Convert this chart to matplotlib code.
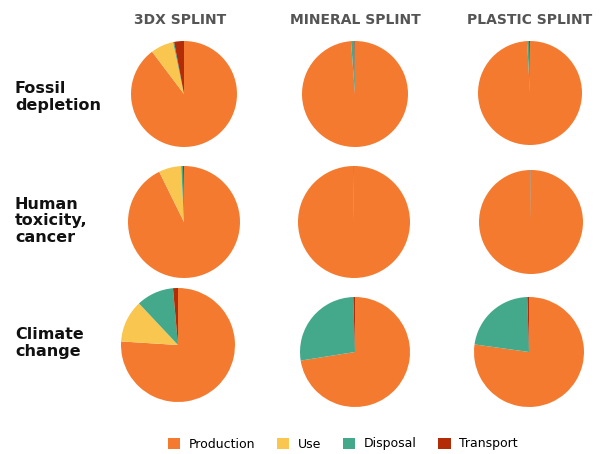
import matplotlib
matplotlib.use('Agg')
import matplotlib.pyplot as plt
from matplotlib.patches import Patch

products = ['3DX SPLINT', 'MINERAL SPLINT', 'PLASTIC SPLINT']
impacts = ['Fossil\ndepletion', 'Human\ntoxicity,\ncancer', 'Climate\nchange']
stages = ['Production', 'Use', 'Disposal', 'Transport']
colors = ['#F47A30', '#F9C74F', '#44A98A', '#B22D07']

# shares (%) per stage: Production, Use, Disposal, Transport
fossil = [[89.7, 7.0, 0.3, 3.0],
          [98.8, 0.0, 1.0, 0.2],
          [99.1, 0.0, 0.6, 0.3]]
toxicity = [[92.7, 6.5, 0.5, 0.3],
            [99.7, 0.0, 0.2, 0.1],
            [99.8, 0.0, 0.1, 0.1]]
climate = [[76.0, 12.0, 10.6, 1.4],
           [72.5, 0.0, 27.0, 0.5],
           [77.2, 0.0, 22.3, 0.5]]
rows = [fossil, toxicity, climate]

W, H = 606, 454
fig = plt.figure(figsize=(W / 100, H / 100), dpi=100)

# pie centre x, centre y, radius in pixels
geom = [[(184, 94, 53), (355, 94, 53), (530, 93, 52)],
        [(184, 222, 56), (354, 222, 56), (531, 222, 52)],
        [(178, 345, 57), (355, 352, 55), (529, 352, 55)]]

for i, data in enumerate(rows):
    for j, vals in enumerate(data):
        cx, cy, rad = geom[i][j]
        ax = fig.add_axes([(cx - rad) / W, 1 - (cy + rad) / H, 2 * rad / W, 2 * rad / H])
        ax.pie(vals, colors=colors, startangle=90, counterclock=False,
               wedgeprops=dict(linewidth=0))
        ax.set_xlim(-1.0, 1.0)
        ax.set_ylim(-1.0, 1.0)
        ax.set_aspect('auto')
        ax.axis('off')

head_x = [180, 355, 530]
for j, name in enumerate(products):
    fig.text(head_x[j] / W, 1 - 20 / H, name, ha='center', va='center',
             fontsize=10, fontweight='bold', color='#555555')

label_y = [97, 221, 343]
for i, name in enumerate(impacts):
    fig.text(15 / W, 1 - label_y[i] / H, name, ha='left', va='center',
             fontsize=11.5, fontweight='bold', color='#111111', linespacing=1.1)

handles = [Patch(facecolor=c, edgecolor='none') for c in colors]
fig.legend(handles, stages, loc='center', bbox_to_anchor=(343 / W, 1 - 444 / H),
           ncol=4, frameon=False, fontsize=9, handlelength=1.0, handleheight=1.0,
           columnspacing=1.7, handletextpad=0.7)

fig.savefig('out.png', dpi=100)
